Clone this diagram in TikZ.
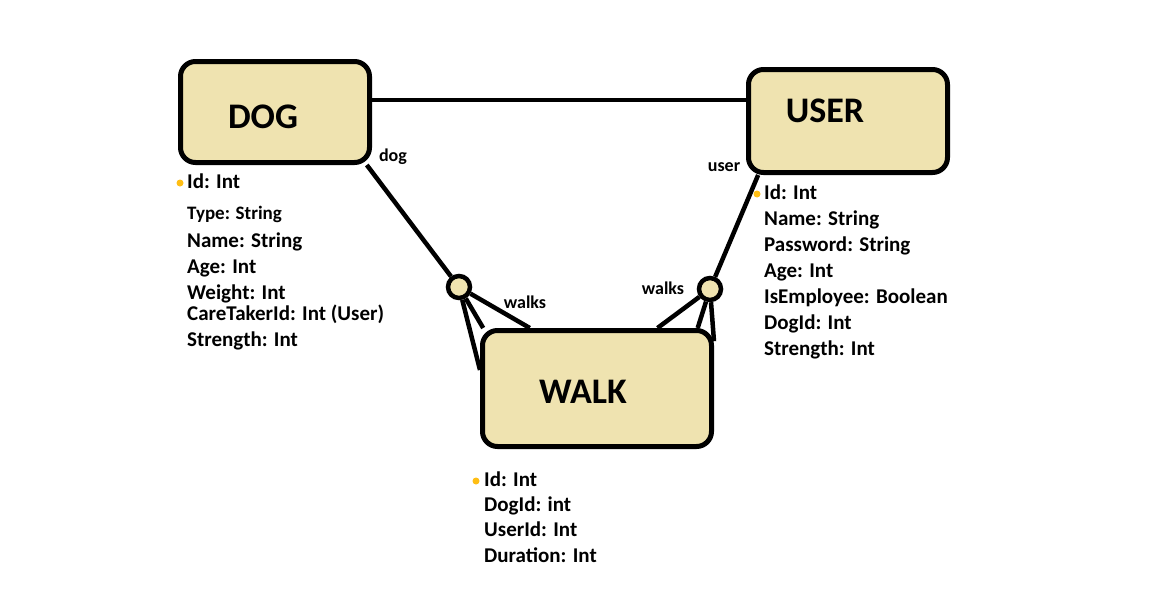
\documentclass[tikz,border=0pt]{standalone}
\usepackage{fontspec}
\setmainfont{Carlito}
\usetikzlibrary{positioning}
\definecolor{boxfill}{RGB}{239,227,176}
\definecolor{keydot}{RGB}{255,190,20}
\tikzstyle{entity} = [rectangle, rounded corners=15pt, draw=black, fill=boxfill, line width=5pt, inner sep=0pt]
\tikzstyle{title} = [font=\fontsize{36}{40}\selectfont\bfseries]
\tikzstyle{rel} = [circle, draw=black, fill=boxfill, line width=4.5pt, minimum size=22pt, inner sep=0pt]
\tikzstyle{attr} = [anchor=west, inner sep=0pt, text height=14pt, text depth=4pt, font=\fontsize{21}{24}\selectfont\bfseries]
\tikzstyle{role} = [inner sep=0pt, font=\fontsize{18}{20}\selectfont\bfseries]
\tikzstyle{key} = [circle, fill=keydot, inner sep=0pt, minimum size=7pt]
\tikzstyle{conn} = [line width=4.5pt]

\begin{document}
\begin{tikzpicture}[x=1pt,y=-1pt]
\useasboundingbox (0,0) rectangle (1176,608);

% entities
\node (dog) [entity, minimum width=189pt, minimum height=101pt] at (275,112) {};
\node (dogt) [title] at (263,117) {DOG};
\node (user) [entity, minimum width=199pt, minimum height=103pt] at (848,121) {};
\node (usert) [title] at (825,111) {USER};
\node (walk) [entity, minimum width=229pt, minimum height=116pt] at (597,388.5) {};
\node (walkt) [title] at (583,392) {WALK};

% relationships
\node (lw) [rel] at (459,287) {};
\node (rw) [rel] at (710,289) {};

\draw [conn] ([yshift=12pt]dog.east) -- ([yshift=12pt]dog.east -| user.west);
\draw [conn] (dog.-30) -- (lw);
\draw [conn] (user.211) -- (rw);
\draw [conn] (lw) -- (walk.171);
\draw [conn] (lw) -- (walk.152);
\draw [conn] (lw) -- (walk.138);
\draw [conn] (rw) -- (walk.45);
\draw [conn] (rw) -- (walk.31);
\draw [conn] (rw) -- (walk.22);

\node (ldog) [role] at (393,157) {dog};
\node (luser) [role] at (724,167) {user};
\node (lwalks) [role] at (525,302) {walks};
\node (rwalks) [role] at (663,288) {walks};

% dog attributes
\node (dkey) [key] at (180,183) {};
\node (did) [attr] at (187,183.5) {Id: Int};
\node (dtype) [attr, below=31pt of did.west, anchor=west, font=\fontsize{19}{22}\selectfont\bfseries] {Type: String};
\node (dname) [attr, below=28pt of dtype.west, anchor=west] {Name: String};
\node (dage) [attr, below=26pt of dname.west, anchor=west] {Age: Int};
\node (dweight) [attr, below=26pt of dage.west, anchor=west] {Weight: Int};
\node (dcare) [attr, below=21pt of dweight.west, anchor=west] {CareTakerId: Int (User)};
\node (dstr) [attr, below=26pt of dcare.west, anchor=west] {Strength: Int};

% user attributes
\node (ukey) [key] at (757,194) {};
\node (uid) [attr] at (764,194.5) {Id: Int};
\node (uname) [attr, below=26pt of uid.west, anchor=west] {Name: String};
\node (upass) [attr, below=26pt of uname.west, anchor=west] {Password: String};
\node (uage) [attr, below=26pt of upass.west, anchor=west] {Age: Int};
\node (uemp) [attr, below=26pt of uage.west, anchor=west] {IsEmployee: Boolean};
\node (udog) [attr, below=26pt of uemp.west, anchor=west] {DogId: Int};
\node (ustr) [attr, below=26pt of udog.west, anchor=west] {Strength: Int};

% walk attributes
\node (wkey) [key] at (476,481) {};
\node (wid) [attr] at (484,481.5) {Id: Int};
\node (wdog) [attr, below=25pt of wid.west, anchor=west] {DogId: int};
\node (wuser) [attr, below=25pt of wdog.west, anchor=west] {UserId: Int};
\node (wdur) [attr, below=26pt of wuser.west, anchor=west] {Duration: Int};

\end{tikzpicture}
\end{document}
